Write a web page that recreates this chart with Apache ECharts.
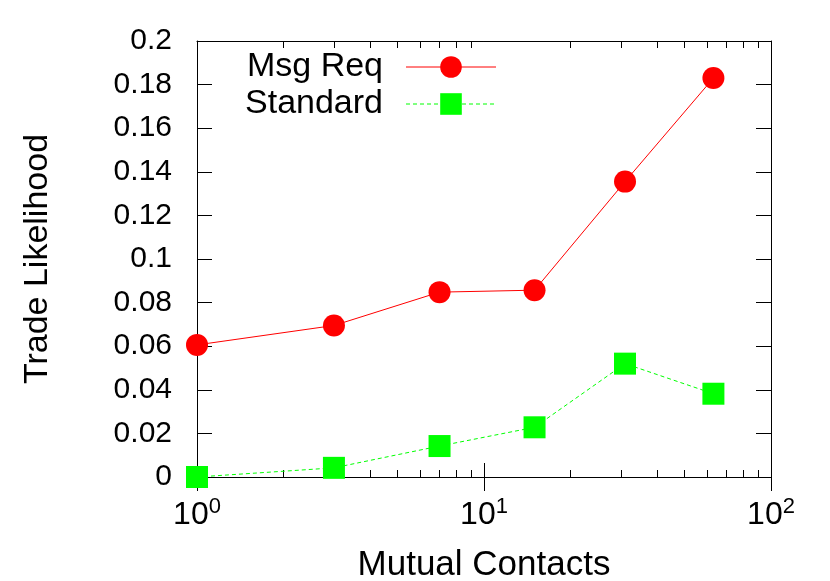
<!DOCTYPE html>
<html><head><meta charset="utf-8">
<script src="https://cdn.jsdelivr.net/npm/echarts@6/dist/echarts.min.js"></script>
<style>html,body{margin:0;padding:0;background:#fff}#c{width:830px;height:581px}</style>
</head><body><div id="c"></div>
<script>
// ---- data ----
const seriesNames = ['Msg Req', 'Standard'];
const xValues = [1, 3, 7, 15, 31, 63];
const msgReq = [0.0606, 0.0695, 0.0848, 0.0857, 0.1355, 0.1830];
const standard = [0.0000, 0.0042, 0.0142, 0.0228, 0.0520, 0.0382];
const xMajorTicks = [1, 10, 100];
const xMinorTicks = [2, 3, 4, 5, 6, 7, 8, 9, 20, 30, 40, 50, 60, 70, 80, 90];
const yMin = 0, yMax = 0.2, yStep = 0.02;
const xTitle = 'Mutual Contacts';
const yTitle = 'Trade Likelihood';

const FONT = 'Liberation Sans';
const chart = echarts.init(document.getElementById('c'), null, {renderer: 'canvas'});
const gridRect = {left: 197, right: 59, top: 41, bottom: 104, outerBoundsMode: 'none'};
const black = '#000';

function xAxisBase(gridIndex, position, tickVals, tickLen, showLabel) {
  return {
    type: 'log', logBase: 10, min: 1, max: 100, gridIndex: gridIndex, position: position,
    axisLine: {show: true, lineStyle: {color: black, width: 1}},
    axisTick: {show: true, inside: true, length: tickLen, customValues: tickVals, lineStyle: {color: black, width: 1}},
    axisLabel: {show: showLabel, customValues: xMajorTicks, margin: 19, color: black, fontFamily: FONT,
      formatter: v => '{b|10}{s|' + Math.round(Math.log10(v)) + '}',
      rich: {b: {fontSize: 32, fontFamily: FONT, color: black}, s: {fontSize: 22, fontFamily: FONT, color: black, padding: [0, 0, 16, 0]}}},
    splitLine: {show: false}
  };
}
function yAxisBase(gridIndex, position, showLabel, show) {
  return {
    type: 'value', min: yMin, max: yMax, interval: yStep, gridIndex: gridIndex, position: position, show: show,
    axisLine: {show: true, lineStyle: {color: black, width: 1}},
    axisTick: {show: true, inside: true, length: 15, lineStyle: {color: black, width: 1}},
    axisLabel: {show: showLabel, margin: 25, color: black, fontFamily: FONT, fontSize: 30},
    splitLine: {show: false}
  };
}

const xb = xAxisBase(0, 'bottom', xMajorTicks, 14, true);
xb.name = xTitle; xb.nameLocation = 'middle'; xb.nameGap = 71;
xb.nameTextStyle = {fontFamily: FONT, fontSize: 35, color: black};
const yl = yAxisBase(0, 'left', true, true);
yl.name = yTitle; yl.nameLocation = 'middle'; yl.nameGap = 142;
yl.nameTextStyle = {fontFamily: FONT, fontSize: 34, color: black};

const option = {
  animation: false,
  backgroundColor: '#fff',
  grid: [Object.assign({}, gridRect), Object.assign({}, gridRect)],
  xAxis: [
    xb,
    xAxisBase(0, 'top', xMajorTicks, 14, false),
    xAxisBase(1, 'bottom', xMinorTicks, 7, false),
    xAxisBase(1, 'top', xMinorTicks, 7, false)
  ],
  yAxis: [
    yl,
    yAxisBase(0, 'right', false, true),
    yAxisBase(1, 'left', false, false)
  ],
  legend: {
    orient: 'vertical', align: 'right', left: 218, top: 45,
    itemWidth: 90, itemHeight: 27, itemGap: 3,
    lineStyle: {width: 1},
    textStyle: {fontFamily: FONT, fontSize: 34, lineHeight: 27, color: black, width: 160, align: 'right', padding: [0, 18, 0, 0]},
    data: seriesNames
  },
  series: [
    {
      name: seriesNames[0], type: 'line', xAxisIndex: 0, yAxisIndex: 0,
      data: xValues.map((x, i) => [x, msgReq[i]]),
      symbol: 'circle', symbolSize: 22,
      itemStyle: {color: '#ff0000'},
      lineStyle: {color: '#ff0000', width: 1}
    },
    {
      name: seriesNames[1], type: 'line', xAxisIndex: 0, yAxisIndex: 0,
      data: xValues.map((x, i) => [x, standard[i]]),
      symbol: 'rect', symbolSize: 22,
      itemStyle: {color: '#00ff00'},
      lineStyle: {color: '#00ff00', width: 1, type: [4, 3]}
    }
  ]
};
chart.setOption(option);
</script></body></html>
